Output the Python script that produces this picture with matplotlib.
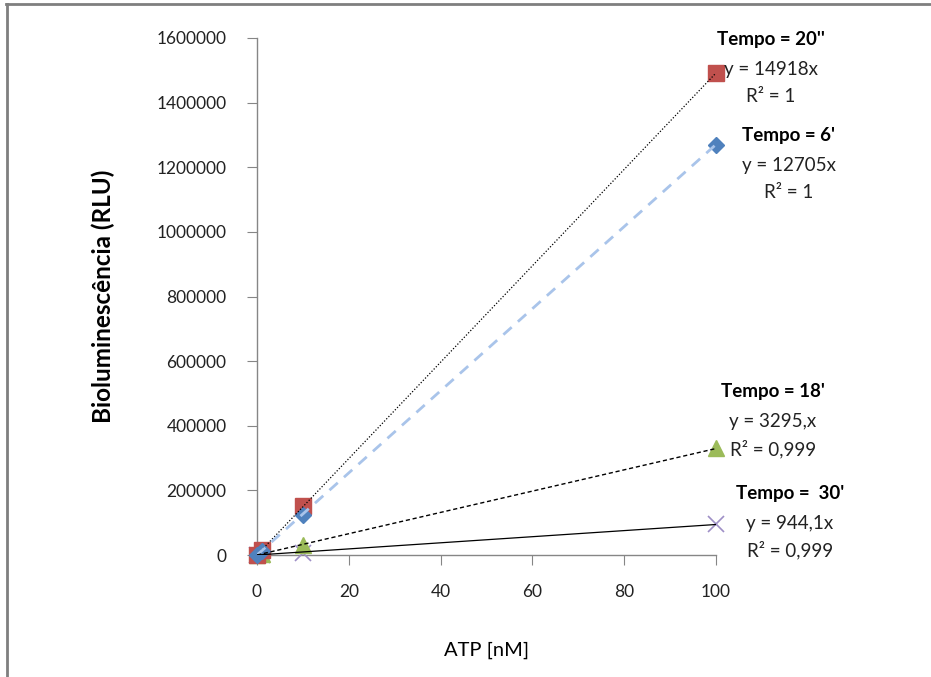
import matplotlib
matplotlib.use("Agg")

import matplotlib.pyplot as plt
from matplotlib.lines import Line2D

plt.rcParams["font.family"] = ["Lato", "DejaVu Sans"]

# data
atp = [0, 1, 10, 100]
t20s = [0, 15000, 152000, 1491800]
t6 = [0, 12500, 125000, 1268000]
t18 = [0, 3200, 30000, 329800]
t30 = [0, 900, 5000, 94400]

slopes = [14918, 12705, 3295, 944.1]
titles = ["Tempo = 20''", "Tempo = 6'", "Tempo = 18'", "Tempo =  30'"]
eqs = ["y = 14918x", "y = 12705x", "y = 3295,x", "y = 944,1x"]
r2s = ["R² = 1", "R² = 1", "R² = 0,999", "R² = 0,999"]

W, H = 931, 677
fig = plt.figure(figsize=(W / 100, H / 100), dpi=100)
ax = fig.add_axes([257 / W, 1 - 555 / H, (716 - 257) / W, (555 - 38) / H])

gray = "#868686"

# trendlines (drawn over markers, like Excel)
xs = [0, 100]
ax.plot(xs, [0, slopes[0] * 100], color="black", lw=0.9, ls=(0, (1, 1.5)), zorder=4)
ax.plot(xs, [0, slopes[1] * 100], color="#A9C4EA", lw=2, ls=(0, (4, 3)), zorder=4)
ax.plot(xs, [0, slopes[2] * 100], color="black", lw=1, ls=(0, (3, 2)), zorder=4)
ax.plot(xs, [0, slopes[3] * 100], color="black", lw=0.9, zorder=4)

# data markers
ax.plot(atp, t30, ls="none", marker="x", ms=12, mew=1.2, color="#9E8FC6", clip_on=False, zorder=3)
ax.plot(atp, t18, ls="none", marker="^", ms=12, color="#9BBB59", clip_on=False, zorder=3)
ax.plot(atp, t20s, ls="none", marker="s", ms=12, color="#C0504D", clip_on=False, zorder=3)
ax.plot(atp, t6, ls="none", marker="D", ms=8.5, color="#4F81BD", clip_on=False, zorder=3)

ax.set_xlim(0, 100)
ax.set_ylim(0, 1600000)
ax.set_xticks(range(0, 101, 20))
ax.set_yticks(range(0, 1600001, 200000))
ax.set_yticklabels([str(v) for v in range(0, 1600001, 200000)])

for s in ["top", "right"]:
    ax.spines[s].set_visible(False)
for s in ["left", "bottom"]:
    ax.spines[s].set_color(gray)
    ax.spines[s].set_linewidth(1)
ax.tick_params(direction="out", length=7, color=gray, labelsize=12.5,
               labelcolor="#222222")
ax.tick_params(axis="y", pad=15)
ax.tick_params(axis="x", pad=14)

ax.set_ylabel("Bioluminescência (RLU)", fontsize=17.5, fontweight="bold", labelpad=30)
ax.set_xlabel("ATP [nM]", fontsize=14.5, labelpad=30)

# equation labels
pos = [(771, 39, 70, 97), (789, 136, 165, 193), (773, 392, 422, 449), (790, 494, 523, 550)]
for (cx, y1, y2, y3), t, e, r in zip(pos, titles, eqs, r2s):
    fig.text(cx / W, 1 - y1 / H, t, ha="center", va="center", fontsize=13.5, fontweight="bold")
    fig.text(cx / W, 1 - y2 / H, e, ha="center", va="center", fontsize=13.5, color="#222222")
    fig.text(cx / W, 1 - y3 / H, r, ha="center", va="center", fontsize=13.5, color="#222222")

# outer frame of chart area
fig.add_artist(Line2D([6 / W, 1], [1 - 4 / H, 1 - 4 / H], color="#7F7F7F", lw=2))
fig.add_artist(Line2D([7 / W, 7 / W], [0, 1 - 4 / H], color="#7F7F7F", lw=2))

fig.savefig("out.png", dpi=100)
